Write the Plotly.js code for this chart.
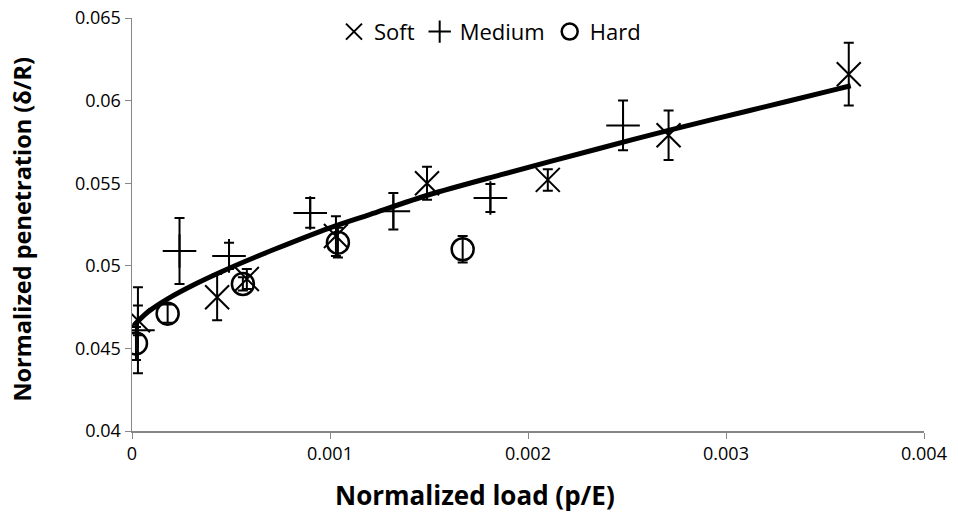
<!DOCTYPE html>
<html>
<head>
<meta charset="utf-8">
<script src="https://cdn.plot.ly/plotly-3.0.1.min.js"></script>
<style>html,body{margin:0;padding:0;background:#fff;}#chart{width:958px;height:529px;}</style>
</head>
<body>
<div id="chart"></div>
<script>
const softX = [0.00003, 0.00043, 0.00058, 0.00103, 0.00149, 0.0021, 0.00271, 0.00362];
const softY = [0.0467, 0.0481, 0.0492, 0.0518, 0.0550, 0.0552, 0.0579, 0.0616];
const softErr = [0.0009, 0.0014, 0.0006, 0.0012, 0.0010, 0.00065, 0.0015, 0.0019];

const mediumX = [0.00003, 0.00024, 0.00049, 0.0009, 0.00132, 0.00181, 0.00248];
const mediumY = [0.0461, 0.0509, 0.0506, 0.0532, 0.0533, 0.0541, 0.0585];
const mediumErr = [0.0026, 0.0020, 0.0008, 0.0009, 0.0011, 0.00085, 0.0015];

const hardX = [0.00002, 0.00018, 0.00056, 0.00104, 0.00167];
const hardY = [0.0453, 0.0471, 0.0489, 0.0514, 0.0510];
const hardErr = [0.0010, 0.00055, 0.0004, 0.0009, 0.0008];

const fitX = [0.00001, 0.00008, 0.00018, 0.00032, 0.0005, 0.00072, 0.001, 0.0012, 0.0015, 0.00186, 0.00236, 0.00271, 0.00312, 0.00353, 0.00363];
const fitY = [0.0464, 0.0472, 0.0480, 0.0489, 0.0499, 0.0510, 0.0523, 0.0531, 0.0543, 0.0555, 0.0571, 0.0582, 0.0594, 0.0606, 0.0609];

const xTicks = [0, 0.001, 0.002, 0.003, 0.004];
const xTickText = ['0', '0.001', '0.002', '0.003', '0.004'];
const yTicks = [0.04, 0.045, 0.05, 0.055, 0.06, 0.065];
const yTickText = ['0.04', '0.045', '0.05', '0.055', '0.06', '0.065'];

const FONT = '"Open Sans", "Noto Sans", sans-serif';
const errStyle = (arr) => ({type: 'data', array: arr, visible: true, color: '#000', thickness: 2, width: 5});

const traces = [
  {x: fitX, y: fitY, mode: 'lines', line: {color: '#000', width: 5, shape: 'spline', smoothing: 0.8}, showlegend: false, hoverinfo: 'skip'},
  {x: softX, y: softY, name: 'Soft', mode: 'markers', marker: {symbol: 'x-thin-open', size: 24, color: '#000', line: {color: '#000', width: 2}}, error_y: errStyle(softErr)},
  {x: mediumX, y: mediumY, name: 'Medium', mode: 'markers', marker: {symbol: 'cross-thin-open', size: 24, color: '#000', line: {color: '#000', width: 2}}, error_y: errStyle(mediumErr)},
  {x: hardX, y: hardY, name: 'Hard', mode: 'markers', marker: {symbol: 'circle-open', size: 22, color: '#000', line: {color: '#000', width: 2.5}}, error_y: errStyle(hardErr)}
];

const layout = {
  width: 958, height: 529,
  margin: {l: 132, r: 34, t: 17, b: 98},
  paper_bgcolor: '#fff', plot_bgcolor: '#fff',
  font: {family: FONT, size: 18, color: '#000'},
  showlegend: true,
  legend: {orientation: 'h', x: 0.452, xanchor: 'center', y: 1.015, yanchor: 'top', font: {size: 22, family: FONT}, bgcolor: 'rgba(0,0,0,0)', itemwidth: 30, traceorder: 'normal'},
  xaxis: {
    range: [0, 0.004], tickvals: xTicks, ticktext: xTickText,
    showgrid: false, zeroline: false, showline: true, linecolor: '#868686', linewidth: 1.5,
    ticks: 'outside', ticklen: 6, tickcolor: '#868686'
  },
  yaxis: {
    range: [0.04, 0.065], tickvals: yTicks, ticktext: yTickText,
    showgrid: false, zeroline: false, showline: true, linecolor: '#868686', linewidth: 1.5,
    ticks: 'outside', ticklen: 6, tickcolor: '#868686'
  },
  annotations: [
    {text: '<b>Normalized load (p/E)</b>', xref: 'paper', yref: 'paper', x: 0.433, y: -0.155, xanchor: 'center', yanchor: 'middle', showarrow: false, font: {size: 26, family: FONT, color: '#000'}},
    {text: '<b>Normalized penetration (δ/R)</b>', xref: 'paper', yref: 'paper', x: -0.139, y: 0.49, xanchor: 'center', yanchor: 'middle', textangle: -90, showarrow: false, font: {size: 23.5, family: FONT, color: '#000'}}
  ]
};

Plotly.newPlot('chart', traces, layout, {displayModeBar: false, staticPlot: true});
</script>
</body>
</html>
